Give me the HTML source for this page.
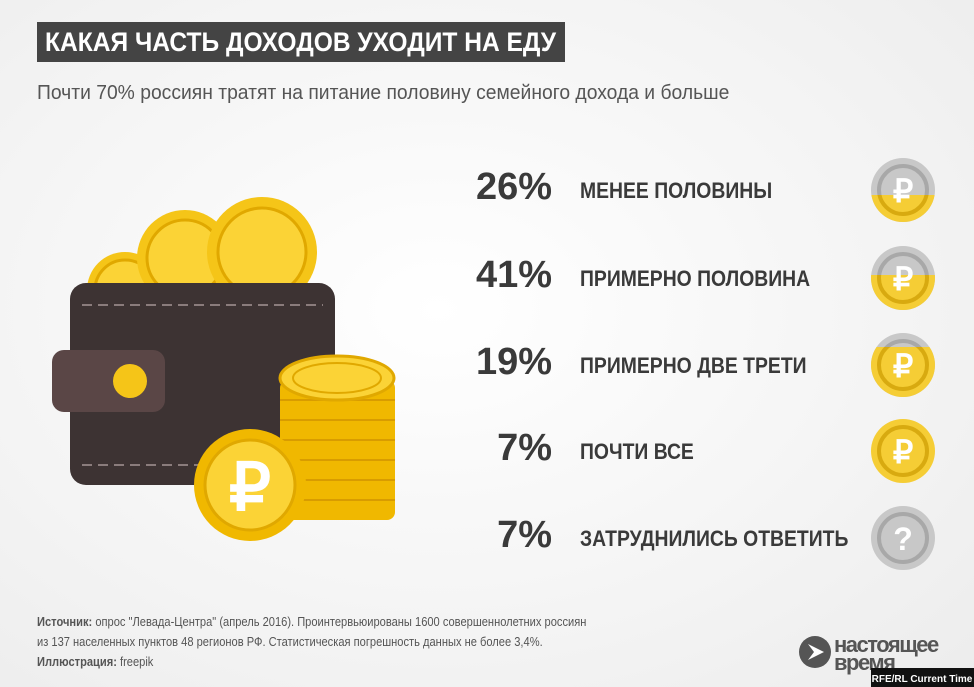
<!DOCTYPE html>
<html><head><meta charset="utf-8"><style>
body{margin:0;width:974px;height:687px;overflow:hidden;font-family:"Liberation Sans","DejaVu Sans",sans-serif;background:radial-gradient(ellipse at 45% 45%,#ffffff 0%,#f4f4f4 60%,#ececec 100%);position:relative}
.t{position:absolute;white-space:nowrap;transform-origin:0 0}
.title{left:37px;top:22px;width:528px;height:40px;background:#444;}
.title span{position:absolute;left:8px;top:0;color:#fff;font-weight:bold;font-size:27px;line-height:40px;white-space:nowrap;transform:scaleX(0.91);transform-origin:0 0}
.sub{left:37px;top:82px;font-size:20px;color:#555;transform:scaleX(0.965)}
.pct{width:160px;left:392px;text-align:right;font-weight:bold;font-size:38px;color:#3a3a3a;transform:none}
.lab{left:580px;font-size:22px;font-weight:bold;color:#3a3a3a;transform:scaleX(0.88)}
.foot{left:37px;font-size:13px;color:#555;transform:scaleX(0.855)}
</style></head><body>
<div class="t title"><span>КАКАЯ ЧАСТЬ ДОХОДОВ УХОДИТ НА ЕДУ</span></div>
<div class="t sub">Почти 70% россиян тратят на питание половину семейного дохода и больше</div>

<div class="t pct" style="top:166px">26%</div><div class="t lab" style="top:178px">МЕНЕЕ ПОЛОВИНЫ</div>
<div class="t pct" style="top:254px">41%</div><div class="t lab" style="top:266px">ПРИМЕРНО ПОЛОВИНА</div>
<div class="t pct" style="top:341px">19%</div><div class="t lab" style="top:353px">ПРИМЕРНО ДВЕ ТРЕТИ</div>
<div class="t pct" style="top:427px">7%</div><div class="t lab" style="top:439px">ПОЧТИ ВСЕ</div>
<div class="t pct" style="top:514px">7%</div><div class="t lab" style="top:526px">ЗАТРУДНИЛИСЬ ОТВЕТИТЬ</div>

<svg class="t" style="left:0;top:0" width="974" height="687">
<defs>
<clipPath id="c1"><rect x="860" y="195" width="90" height="60"/></clipPath>
<clipPath id="c2"><rect x="860" y="275" width="90" height="60"/></clipPath>
<clipPath id="c3"><rect x="860" y="347" width="90" height="60"/></clipPath>
</defs>
<g font-family="Liberation Sans" font-weight="bold" text-anchor="middle">
<g><circle cx="903" cy="190" r="32" fill="#c8c8c8"/><circle cx="903" cy="190" r="24" fill="none" stroke="#a8a8a8" stroke-width="4"/>
<g clip-path="url(#c1)"><circle cx="903" cy="190" r="32" fill="#f5cd35"/><circle cx="903" cy="190" r="24" fill="none" stroke="#d8aa10" stroke-width="4"/></g>
<text x="903" y="202" font-size="32" fill="#fff">₽</text></g>
<g><circle cx="903" cy="278" r="32" fill="#c8c8c8"/><circle cx="903" cy="278" r="24" fill="none" stroke="#a8a8a8" stroke-width="4"/>
<g clip-path="url(#c2)"><circle cx="903" cy="278" r="32" fill="#f5cd35"/><circle cx="903" cy="278" r="24" fill="none" stroke="#d8aa10" stroke-width="4"/></g>
<text x="903" y="290" font-size="32" fill="#fff">₽</text></g>
<g><circle cx="903" cy="365" r="32" fill="#c8c8c8"/><circle cx="903" cy="365" r="24" fill="none" stroke="#a8a8a8" stroke-width="4"/>
<g clip-path="url(#c3)"><circle cx="903" cy="365" r="32" fill="#f5cd35"/><circle cx="903" cy="365" r="24" fill="none" stroke="#d8aa10" stroke-width="4"/></g>
<text x="903" y="377" font-size="32" fill="#fff">₽</text></g>
<g><circle cx="903" cy="451" r="32" fill="#f5cd35"/><circle cx="903" cy="451" r="24" fill="none" stroke="#d8aa10" stroke-width="4"/>
<text x="903" y="463" font-size="32" fill="#fff">₽</text></g>
<g><circle cx="903" cy="538" r="32" fill="#c8c8c8"/><circle cx="903" cy="538" r="24" fill="none" stroke="#a8a8a8" stroke-width="4"/>
<text x="903" y="550" font-size="32" fill="#fff">?</text></g>
</g>

<circle cx="125" cy="290" r="38" fill="#f5c518"/><circle cx="125" cy="290" r="30" fill="#fbd336" stroke="#e0a800" stroke-width="3"/>
<circle cx="185" cy="258" r="48" fill="#f5c518"/><circle cx="185" cy="258" r="38" fill="#fbd336" stroke="#e0a800" stroke-width="3"/>
<circle cx="262" cy="252" r="55" fill="#f5c518"/><circle cx="262" cy="252" r="44" fill="#fbd336" stroke="#e0a800" stroke-width="3"/>
<rect x="70" y="283" width="265" height="202" rx="16" fill="#3d3333"/>
<line x1="82" y1="305" x2="323" y2="305" stroke="#8a7c7c" stroke-width="2" stroke-dasharray="10,6"/>
<line x1="82" y1="465" x2="323" y2="465" stroke="#8a7c7c" stroke-width="2" stroke-dasharray="10,6"/>
<rect x="52" y="350" width="113" height="62" rx="12" fill="#5a4646"/>
<circle cx="130" cy="381" r="17" fill="#f5c518"/>
<g>
<rect x="280" y="380" width="115" height="140" rx="8" fill="#f0b800"/>
<g stroke="#d89c00" stroke-width="2"><line x1="280" y1="400" x2="395" y2="400"/><line x1="280" y1="420" x2="395" y2="420"/><line x1="280" y1="440" x2="395" y2="440"/><line x1="280" y1="460" x2="395" y2="460"/><line x1="280" y1="480" x2="395" y2="480"/><line x1="280" y1="500" x2="395" y2="500"/></g>
<ellipse cx="337" cy="378" rx="57" ry="22" fill="#fbd336" stroke="#e0a800" stroke-width="3"/>
<ellipse cx="337" cy="378" rx="44" ry="15" fill="none" stroke="#e0a800" stroke-width="2"/>
</g>
<circle cx="250" cy="485" r="56" fill="#f0b800"/>
<circle cx="250" cy="485" r="45" fill="#fbd336" stroke="#e0a800" stroke-width="3"/>
<text x="250" y="510" font-family="Liberation Sans" font-weight="bold" font-size="66" fill="#fff" text-anchor="middle">₽</text>

<circle cx="815" cy="652" r="16" fill="#555"/><path d="M808 644 L824 652 L808 660 L814 652 Z" fill="#fff"/>
<text x="834" y="652" font-family="Liberation Sans" font-weight="bold" font-size="22" fill="#555" letter-spacing="-1.5">настоящее</text>
<text x="834" y="670" font-family="Liberation Sans" font-weight="bold" font-size="22" fill="#555" letter-spacing="-1.5">время</text>
<rect x="871" y="668" width="103" height="19" fill="#111"/>
<text x="922" y="682" font-family="Liberation Sans" font-weight="bold" font-size="10" fill="#fff" text-anchor="middle">RFE/RL Current Time</text>
</svg>

<div class="t foot" style="top:614px"><b>Источник:</b> опрос "Левада-Центра" (апрель 2016). Проинтервьюированы 1600 совершеннолетних россиян</div>
<div class="t foot" style="top:634px">из 137 населенных пунктов 48 регионов РФ. Статистическая погрешность данных не более 3,4%.</div>
<div class="t foot" style="top:654px"><b>Иллюстрация:</b> freepik</div>
</body></html>
